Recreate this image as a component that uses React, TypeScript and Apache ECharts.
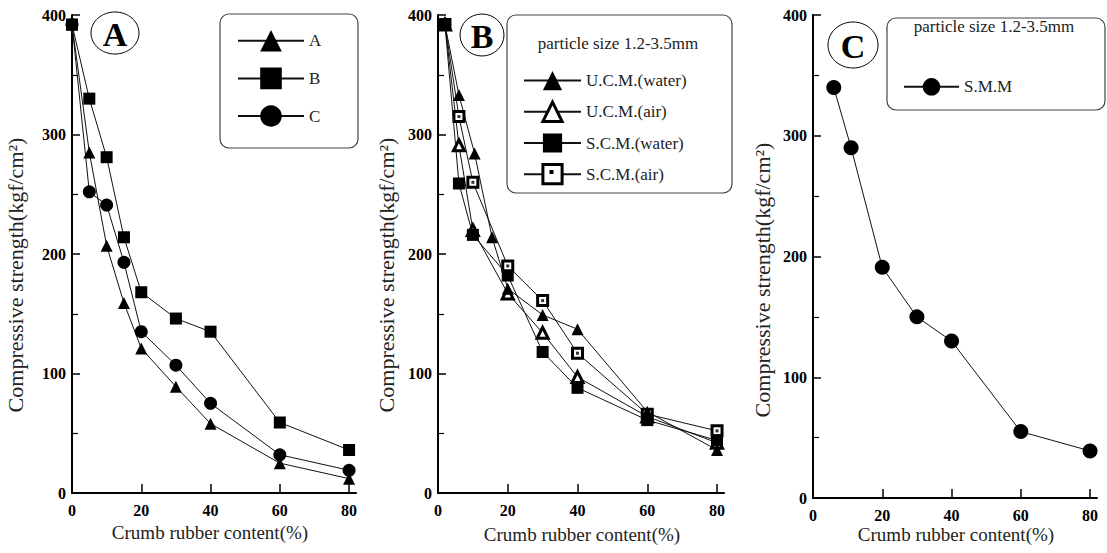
import React, { useEffect, useRef } from "react";
import * as echarts from "echarts";

// ---- Panel A ----
const xA = [0, 5, 10, 15, 20, 30, 40, 60, 80];
const valsA_A = [392, 285, 207, 159, 121, 89, 58, 25, 12];
const valsA_B = [392, 330, 281, 214, 168, 146, 135, 59, 36];
const valsA_C = [392, 252, 241, 193, 135, 107, 75, 32, 19];

// ---- Panel B ----
const xUcmWater = [2, 6, 10.5, 15.5, 20, 30, 40, 60, 80];
const ucmWater = [392, 333, 284, 214, 171, 149, 137, 68, 36];
const xB = [2, 6, 10, 20, 30, 40, 60, 80];
const ucmAir = [392, 291, 220, 167, 134, 97, 64, 42];
const scmWater = [392, 259, 216, 182, 118, 88, 61, 44];
const scmAir = [392, 315, 260, 190, 161, 117, 66, 52];

// ---- Panel C ----
const xC = [6, 11, 20, 30, 40, 60, 80];
const smm = [340, 290, 191, 150, 130, 55, 39];

const xTicks = [0, 20, 40, 60, 80];
const legendA = ["A", "B", "C"];
const legendB = ["U.C.M.(water)", "U.C.M.(air)", "S.C.M.(water)", "S.C.M.(air)"];
const legendC = ["S.M.M"];
const legendTitle = "particle size 1.2-3.5mm";
const xName = "Crumb rubber content(%)";
const yName = "Compressive strength(kgf/cm\u00B2)";

const zip = (xs: number[], ys: number[]) => ys.map((y, i) => [xs[i], y]);

const SERIF = "'Liberation Serif', 'Times New Roman', 'DejaVu Serif', serif";
const tickFont = { fontFamily: SERIF, fontWeight: "bold" as const, fontSize: 16, color: "#000" };
const OPEN_BORDER = 3;

function makeX(gi: number) {
  return {
    type: "value",
    gridIndex: gi,
    min: 0,
    max: 82,
    axisLine: { show: true, onZero: false, lineStyle: { color: "#000", width: 2 } },
    axisTick: { show: true, inside: true, length: 9, customValues: xTicks, lineStyle: { color: "#000", width: 1.5 } },
    axisLabel: { ...tickFont, margin: 9, customValues: xTicks },
    splitLine: { show: false },
  };
}
function makeY(gi: number) {
  return {
    type: "value",
    gridIndex: gi,
    min: 0,
    max: 400,
    interval: 100,
    axisLine: { show: true, lineStyle: { color: "#000", width: 2 } },
    axisTick: { show: true, inside: true, length: 8, lineStyle: { color: "#000", width: 1.5 } },
    minorTick: { show: true, splitNumber: 2, length: 6, lineStyle: { color: "#000", width: 1.2 } },
    axisLabel: { ...tickFont, margin: 6 },
    splitLine: { show: false },
  };
}

const lineSt = { color: "#111", width: 1 };

function lineSeries(name: string, gi: number, data: number[][], symbol: string, size: number, open: boolean, z = 2) {
  return {
    type: "line",
    name,
    xAxisIndex: gi,
    yAxisIndex: gi,
    data,
    symbol,
    symbolSize: size,
    showAllSymbol: true,
    lineStyle: lineSt,
    itemStyle: open
      ? { color: "#fff", borderColor: "#000", borderWidth: OPEN_BORDER }
      : { color: "#000", borderColor: "#000", borderWidth: 0 },
    emphasis: { disabled: true },
    z,
  };
}

function txt(text: string, x: number, y: number, fontSize: number, extra: any = {}) {
  return {
    type: "text",
    x,
    y,
    rotation: extra.rotation || 0,
    style: {
      text,
      fontFamily: SERIF,
      fontSize,
      fontWeight: extra.bold ? "bold" : "normal",
      fill: extra.fill || "#222",
      align: extra.align || "center",
      verticalAlign: "middle",
    },
    z: 10,
  };
}

function boxRect(x: number, y: number, w: number, h: number) {
  return {
    type: "rect",
    shape: { x, y, width: w, height: h, r: 9 },
    style: { fill: "none", stroke: "#444", lineWidth: 1.2 },
    z: 5,
  };
}

function circled(letter: string, cx: number, cy: number, rx: number, ry: number) {
  return [
    { type: "ellipse", shape: { cx, cy, rx, ry }, style: { fill: "#fff", stroke: "#000", lineWidth: 1 }, z: 9 },
    txt(letter, cx, cy + 1, 34, { bold: true, fill: "#000" }),
  ];
}

export default function App() {
  const ref = useRef<HTMLDivElement>(null);
  useEffect(() => {
    if (!ref.current) return;
    const chart = echarts.init(ref.current, undefined, { renderer: "svg" });
    const legendText = { fontFamily: SERIF, fontSize: 17, color: "#222" };
    chart.setOption({
      animation: false,
      backgroundColor: "#fff",
      grid: [
        { left: 72, top: 15, width: 284, height: 478 },
        { left: 438, top: 15, width: 286, height: 478 },
        { left: 813, top: 15, width: 284, height: 483 },
      ],
      xAxis: [makeX(0), makeX(1), makeX(2)],
      yAxis: [makeY(0), makeY(1), makeY(2)],
      legend: [
        {
          data: legendA,
          left: 237,
          top: 30,
          orient: "vertical",
          itemWidth: 66,
          itemHeight: 27,
          itemGap: 16,
          itemTextGap: 14,
          padding: 0,
          selectedMode: false,
          textStyle: legendText,
        },
        {
          data: legendB.map((n, i) =>
            i % 2 === 1 ? { name: n, itemStyle: { borderWidth: OPEN_BORDER, borderColor: "#000" } } : { name: n }
          ),
          left: 523,
          top: 71,
          orient: "vertical",
          itemWidth: 57,
          itemHeight: 24,
          itemGap: 10.5,
          itemTextGap: 12,
          padding: 0,
          selectedMode: false,
          textStyle: legendText,
        },
        {
          data: legendC,
          left: 903,
          top: 78,
          orient: "vertical",
          itemWidth: 55,
          itemHeight: 22,
          itemGap: 8,
          itemTextGap: 15,
          padding: 0,
          selectedMode: false,
          textStyle: legendText,
        },
      ],
      series: [
        lineSeries(legendA[0], 0, zip(xA, valsA_A), "triangle", 12, false),
        lineSeries(legendA[2], 0, zip(xA, valsA_C), "circle", 13, false),
        lineSeries(legendA[1], 0, zip(xA, valsA_B), "rect", 12, false, 3),
        lineSeries(legendB[1], 1, zip(xB, ucmAir), "triangle", 11, true),
        lineSeries(legendB[3], 1, zip(xB, scmAir), "rect", 10, true),
        lineSeries(legendB[0], 1, zip(xUcmWater, ucmWater), "triangle", 12, false),
        lineSeries(legendB[2], 1, zip(xB, scmWater), "rect", 12, false, 3),
        {
          type: "scatter",
          name: "dots",
          xAxisIndex: 1,
          yAxisIndex: 1,
          data: zip(xB, scmAir).slice(1),
          symbol: "rect",
          symbolSize: 3,
          itemStyle: { color: "#000" },
          silent: true,
          z: 4,
        },
        lineSeries(legendC[0], 2, zip(xC, smm), "circle", 15, false),
      ],
      graphic: [
        boxRect(220, 14, 138, 134),
        boxRect(507, 15, 225, 178),
        boxRect(887, 18, 218, 92),
        txt(legendTitle, 618, 43, 17),
        txt(legendTitle, 994, 26, 17),
        { type: "rect", shape: { x: 549.5, y: 170, width: 4, height: 4 }, style: { fill: "#000" }, z: 20 },
        ...circled("A", 115, 33, 24, 21),
        ...circled("B", 482, 35, 22, 21),
        ...circled("C", 853, 45, 25, 23),
        txt(yName, 15, 275, 22, { rotation: Math.PI / 2 }),
        txt(yName, 386, 275, 22, { rotation: Math.PI / 2 }),
        txt(yName, 762, 280, 22, { rotation: Math.PI / 2 }),
        txt(xName, 210, 532, 19),
        txt(xName, 582, 534, 19),
        txt(xName, 956, 534, 19),
      ],
    });
    return () => chart.dispose();
  }, []);
  return <div ref={ref} style={{ position: "absolute", left: 0, top: 0, width: 1107, height: 553 }} />;
}
